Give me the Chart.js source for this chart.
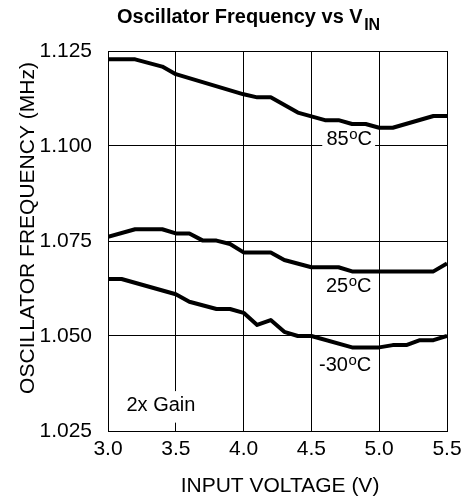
<!DOCTYPE html>
<html>
<head>
<meta charset="utf-8">
<script src="https://cdn.jsdelivr.net/npm/chart.js@4.4.1/dist/chart.umd.min.js"></script>
<style>
html,body{margin:0;padding:0;background:#fff;}
#c{display:block;}
</style>
</head>
<body>
<canvas id="c" width="465" height="499" style="width:465px;height:499px"></canvas>
<script>
// ---- data ----
const xTicks = [3.0, 3.5, 4.0, 4.5, 5.0, 5.5];
const yTicks = [1.025, 1.050, 1.075, 1.100, 1.125];

const volt85 = [3.0, 3.2, 3.4, 3.5, 4.0, 4.1, 4.2, 4.4, 4.6, 4.7, 4.8, 4.9, 5.0, 5.1, 5.4, 5.5];
const freq85 = [1.1228, 1.1228, 1.1209, 1.1189, 1.1136, 1.1128, 1.1128, 1.1088, 1.1068, 1.1068, 1.1058, 1.1058, 1.1048, 1.1048, 1.1079, 1.1079];

const volt25 = [3.0, 3.2, 3.4, 3.5, 3.6, 3.7, 3.8, 3.9, 4.0, 4.2, 4.3, 4.5, 4.7, 4.8, 5.4, 5.5];
const freq25 = [1.0761, 1.0781, 1.0781, 1.0770, 1.0770, 1.0751, 1.0751, 1.0742, 1.0720, 1.0720, 1.0700, 1.0681, 1.0681, 1.0670, 1.0670, 1.0691];

const voltM30 = [3.0, 3.1, 3.5, 3.6, 3.8, 3.9, 4.0, 4.1, 4.2, 4.3, 4.4, 4.5, 4.8, 5.0, 5.1, 5.2, 5.3, 5.4, 5.5];
const freqM30 = [1.0650, 1.0650, 1.0610, 1.0590, 1.0571, 1.0571, 1.0561, 1.0529, 1.0542, 1.0511, 1.0500, 1.0500, 1.0470, 1.0470, 1.0476, 1.0476, 1.0489, 1.0489, 1.0500];

const seriesLabels = ['85', '25', '-30'];
const titleMain = 'Oscillator Frequency vs V';
const titleSub = 'IN';
const xTitle = 'INPUT VOLTAGE (V)';
const yTitle = 'OSCILLATOR FREQUENCY (MHz)';
const noteText = '2x Gain';

const FONT = '"Liberation Sans", Arial, Helvetica, sans-serif';

function pts(xs, ys){ return xs.map((x,i)=>({x:x, y:ys[i]})); }

function drawTemp(ctx, num, xLeft, baseline){
  ctx.fillStyle = '#000';
  ctx.textAlign = 'left';
  ctx.textBaseline = 'alphabetic';
  ctx.font = '20px ' + FONT;
  ctx.fillText(num, xLeft, baseline);
  let x = xLeft + ctx.measureText(num).width;
  ctx.font = '15px ' + FONT;
  ctx.fillText('o', x + 0.5, baseline - 6);
  x += ctx.measureText('o').width + 0.5;
  ctx.font = '20px ' + FONT;
  ctx.fillText('C', x, baseline);
}

const annot = {
  id: 'annot',
  beforeDatasetsDraw(chart){
    const ctx = chart.ctx;
    const xs = chart.scales.x, ys = chart.scales.y;
    ctx.save();
    ctx.fillStyle = '#fff';
    // label boxes that hide grid lines
    ctx.fillRect(xs.getPixelForValue(4.58), ys.getPixelForValue(1.1035), xs.getPixelForValue(4.97) - xs.getPixelForValue(4.58), ys.getPixelForValue(1.0993) - ys.getPixelForValue(1.1035));
    ctx.fillRect(xs.getPixelForValue(3.1), ys.getPixelForValue(1.0355), xs.getPixelForValue(3.68) - xs.getPixelForValue(3.1), ys.getPixelForValue(1.0272) - ys.getPixelForValue(1.0355));
    ctx.restore();
  },
  afterDraw(chart){
    const ctx = chart.ctx;
    ctx.save();
    ctx.fillStyle = '#000';
    // main title with subscript
    ctx.font = 'bold 20px ' + FONT;
    ctx.textAlign = 'left';
    ctx.textBaseline = 'alphabetic';
    const tx = 117;
    ctx.fillText(titleMain, tx, 23);
    const w = ctx.measureText(titleMain).width;
    ctx.font = 'bold 16px ' + FONT;
    ctx.fillText(titleSub, tx + w + 1.5, 30);
    // x axis title
    ctx.font = '21px ' + FONT;
    ctx.textAlign = 'center';
    ctx.fillText(xTitle, 280, 492);
    // y axis title
    ctx.save();
    ctx.translate(34, 228);
    ctx.rotate(-Math.PI/2);
    ctx.textAlign = 'center';
    ctx.fillText(yTitle, 0, 0);
    ctx.restore();
    // note
    ctx.textAlign = 'left';
    ctx.font = '20px ' + FONT;
    ctx.fillText(noteText, 126.5, 411);
    // temperature labels
    drawTemp(ctx, seriesLabels[0], 326.5, 145);
    drawTemp(ctx, seriesLabels[1], 326, 291.5);
    drawTemp(ctx, seriesLabels[2], 319, 370.5);
    ctx.restore();
  }
};

const lineStyle = {borderColor:'#000', backgroundColor:'#000', borderWidth:4, pointRadius:0, tension:0, fill:false, borderJoinStyle:'round', borderCapStyle:'butt'};

new Chart(document.getElementById('c'), {
  type: 'line',
  data: {
    datasets: [
      Object.assign({label: seriesLabels[0] + '°C', data: pts(volt85, freq85)}, lineStyle),
      Object.assign({label: seriesLabels[1] + '°C', data: pts(volt25, freq25)}, lineStyle),
      Object.assign({label: seriesLabels[2] + '°C', data: pts(voltM30, freqM30)}, lineStyle)
    ]
  },
  options: {
    responsive: false,
    animation: false,
    devicePixelRatio: 1,
    layout: {padding: {left: 0, right: 18, top: 51, bottom: 0}},
    plugins: {legend: {display: false}, title: {display: false}, tooltip: {enabled: false}},
    scales: {
      x: {
        type: 'linear',
        min: xTicks[0], max: xTicks[xTicks.length-1],
        afterBuildTicks(scale){ scale.ticks = xTicks.map(v=>({value:v})); },
        afterFit(scale){ scale.height = 68; scale.paddingLeft = 0; scale.paddingRight = 0; },
        grid: {color:'#000', lineWidth:1, drawTicks:false},
        border: {color:'#000', width:1},
        ticks: {color:'#000', font:{family:FONT, size:21}, padding:6, maxRotation:0, callback:(v)=>Number(v).toFixed(1)}
      },
      y: {
        type: 'linear',
        min: yTicks[0], max: yTicks[yTicks.length-1],
        afterBuildTicks(scale){ scale.ticks = yTicks.map(v=>({value:v})); },
        afterFit(scale){ scale.width = 108; scale.paddingTop = 0; scale.paddingBottom = 0; },
        grid: {color:'#000', lineWidth:1, drawTicks:false},
        border: {color:'#000', width:1},
        ticks: {color:'#000', font:{family:FONT, size:21}, padding:16, callback:(v)=>Number(v).toFixed(3)}
      }
    }
  },
  plugins: [annot]
});
</script>
</body>
</html>
